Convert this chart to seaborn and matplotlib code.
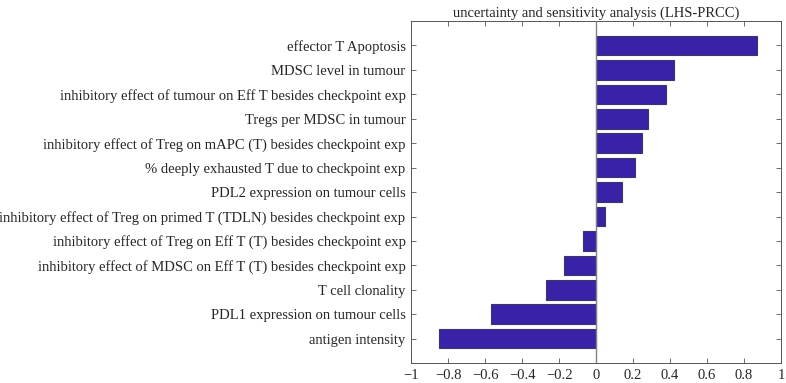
import matplotlib
matplotlib.use("Agg")
import matplotlib.pyplot as plt
import seaborn as sns
import pandas as pd

# data (top to bottom)
parametres = [
    "effector T Apoptosis",
    "MDSC level in tumour",
    "inhibitory effect of tumour on Eff T besides checkpoint exp",
    "Tregs per MDSC in tumour",
    "inhibitory effect of Treg on mAPC (T) besides checkpoint exp",
    "% deeply exhausted T due to checkpoint exp",
    "PDL2 expression on tumour cells",
    "inhibitory effect of Treg on primed T (TDLN) besides checkpoint exp",
    "inhibitory effect of Treg on Eff T (T) besides checkpoint exp",
    "inhibitory effect of MDSC on Eff T (T) besides checkpoint exp",
    "T cell clonality",
    "PDL1 expression on tumour cells",
    "antigen intensity",
]
prcc = [0.868, 0.42, 0.377, 0.283, 0.247, 0.209, 0.139,
        0.047, -0.072, -0.171, -0.27, -0.568, -0.85]
xticks = [-1, -0.8, -0.6, -0.4, -0.2, 0, 0.2, 0.4, 0.6, 0.8, 1]

df = pd.DataFrame({"param": parametres, "prcc": prcc})

sns.set_style("white")
plt.rcParams["font.family"] = ["Liberation Serif", "DejaVu Serif"]

fig = plt.figure(figsize=(7.86, 3.83), dpi=100)
ax = fig.add_axes([0.523, 0.052, 0.4706, 0.893])

sns.barplot(data=df, x="prcc", y="param", orient="h", order=parametres,
            color="#3a22a8", saturation=1, width=0.8,
            edgecolor="#3d3468", linewidth=0.8, ax=ax)

# grey baseline at zero
ax.axvline(0, color="#808080", linewidth=1.0, zorder=3)

ax.set_xlim(-1, 1)
ax.set_ylim(len(parametres), -1)
ax.set_xticks(xticks)
ax.set_xticklabels([("\u2212" + f"{abs(v):g}") if v < 0 else f"{v:g}" for v in xticks])
ax.set_xlabel("")
ax.set_ylabel("")
ax.set_title("uncertainty and sensitivity analysis (LHS-PRCC)", fontsize=10.5, pad=3)

ax.tick_params(axis="both", direction="in", length=3.5, width=0.6, color="#555555",
               labelsize=10.5, top=True, right=True, bottom=True, left=True, pad=4)
for sp in ax.spines.values():
    sp.set_visible(True)
    sp.set_color("#555555")
    sp.set_linewidth(0.7)

fig.savefig("out.png", dpi=100)
